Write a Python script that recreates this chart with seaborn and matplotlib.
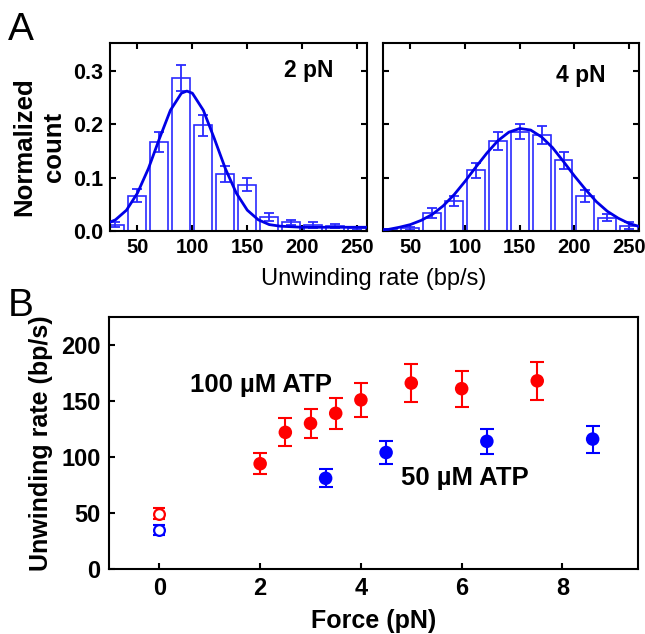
import numpy as np
import pandas as pd
import seaborn as sns
import matplotlib.pyplot as plt

# panel A: histograms of unwinding rate at 2 pN and 4 pN
bin_centers = [30, 50, 70, 90, 110, 130, 150, 170, 190, 210, 230, 250]
count_2pn = [0.012, 0.066, 0.166, 0.287, 0.198, 0.107, 0.087, 0.027, 0.016, 0.011, 0.010, 0.005]
err_2pn = [0.005, 0.012, 0.019, 0.024, 0.020, 0.015, 0.013, 0.0075, 0.005, 0.005, 0.004, 0.003]
count_4pn = [0.001, 0.005, 0.034, 0.057, 0.114, 0.169, 0.186, 0.179, 0.1325, 0.066, 0.025, 0.010]
err_4pn = [0.002, 0.003, 0.009, 0.0094, 0.014, 0.017, 0.0144, 0.017, 0.0156, 0.011, 0.007, 0.0066]

# fitted curves
fit_x_2pn = [20, 30, 40, 50, 60, 70, 80, 90, 95, 100, 110, 120, 130, 140, 150,
             160, 170, 180, 190, 200, 210, 220, 230, 240, 250, 260]
fit_2pn = [0.012, 0.021, 0.039, 0.071, 0.117, 0.173, 0.226, 0.258, 0.262, 0.258,
           0.226, 0.173, 0.117, 0.071, 0.039, 0.021, 0.012, 0.009, 0.008, 0.007,
           0.007, 0.007, 0.007, 0.007, 0.007, 0.007]
fit_x_4pn = [20, 30, 40, 50, 60, 70, 80, 90, 100, 110, 120, 130, 140, 150,
             160, 170, 180, 190, 200, 210, 220, 230, 240, 250, 260]
fit_4pn = [0.002, 0.003, 0.007, 0.012, 0.020, 0.031, 0.047, 0.068, 0.093, 0.120,
           0.146, 0.169, 0.185, 0.192, 0.189, 0.176, 0.156, 0.130, 0.103, 0.078,
           0.055, 0.037, 0.024, 0.014, 0.008]

# panel B: unwinding rate vs force
force_100 = [2, 2.5, 3, 3.5, 4, 5, 6, 7.5]
rate_100 = [94, 122, 130, 139, 151, 166, 161, 168]
err_100 = [9.5, 12.5, 13, 14, 15.5, 17, 16, 17]
force_50 = [3.3, 4.5, 6.5, 8.6]
rate_50 = [81, 104, 114, 116]
err_50 = [8, 10.5, 11, 12]
force_zero = [0, 0]
rate_zero = [49.5, 35]
err_zero = [5, 4.5]
atp_zero = ['100', '50']

bar_blue = '#2b2bff'
line_blue = '#0000e6'
colors = {'100': '#ff0000', '50': '#0000ff'}

sns.set_style('ticks')
plt.rcParams['font.family'] = ['Liberation Sans', 'DejaVu Sans']
plt.rcParams['font.weight'] = 'bold'
plt.rcParams['axes.labelweight'] = 'bold'
plt.rcParams['axes.linewidth'] = 1.5
for key in ['text.color', 'axes.labelcolor', 'xtick.color', 'ytick.color', 'axes.edgecolor']:
    plt.rcParams[key] = 'black'

fig = plt.figure(figsize=(6.45, 6.34), dpi=100)
ax1 = fig.add_axes([110 / 645, 1 - 231 / 634, 257 / 645, 188 / 634])
ax2 = fig.add_axes([383 / 645, 1 - 231 / 634, 256 / 645, 188 / 634])
ax3 = fig.add_axes([109 / 645, 1 - 569 / 634, 529 / 645, 252 / 634])


def draw_hist(ax, counts, errs, fx, fy, label, label_y):
    sns.barplot(x=bin_centers, y=counts, native_scale=True, width=0.82, fill=False,
                color=bar_blue, linewidth=1.2, errorbar=None, ax=ax)
    ax.errorbar(bin_centers, counts, yerr=errs, fmt='none', ecolor=bar_blue,
                elinewidth=1.3, capsize=3.6, capthick=1.3)
    sns.lineplot(x=fx, y=fy, color=line_blue, linewidth=2, ax=ax, zorder=5)
    ax.set_xlim(25, 259)
    ax.set_ylim(0, 0.352)
    ax.set_xticks([50, 100, 150, 200, 250])
    ax.set_xticklabels(['50', '100', '150', '200', '250'])
    ax.set_yticks([0, 0.1, 0.2, 0.3])
    ax.set_yticklabels(['0.0', '0.1', '0.2', '0.3'])
    ax.tick_params(direction='in', top=True, right=True, length=4, width=1.5, pad=5)
    ax.tick_params(axis='x', labelsize=14.5)
    ax.tick_params(axis='y', labelsize=15.5)
    ax.set_xlabel('')
    ax.set_ylabel('')
    ax.text(183, label_y, label, fontsize=16.5, va='center')
    for s in ax.spines.values():
        s.set_color('black')
        s.set_linewidth(1.5)


draw_hist(ax1, count_2pn, err_2pn, fit_x_2pn, fit_2pn, '2 pN', 0.300)
draw_hist(ax2, count_4pn, err_4pn, fit_x_4pn, fit_4pn, '4 pN', 0.292)
ax2.tick_params(labelleft=False)

fig.text(39 / 645, 1 - 147 / 634, 'Normalized\ncount', rotation=90, ha='center',
         va='center', fontsize=18.5, multialignment='center', linespacing=1.3)
fig.text(374 / 645, 1 - 279 / 634, 'Unwinding rate (bp/s)', ha='center', va='center',
         fontsize=17, fontweight='normal')
fig.text(8 / 645, 1 - 12 / 634, 'A', ha='left', va='top', fontsize=28, fontweight='normal')
fig.text(8 / 645, 1 - 288 / 634, 'B', ha='left', va='top', fontsize=28, fontweight='normal')

# panel B
df = pd.DataFrame({
    'force': force_100 + force_50,
    'rate': rate_100 + rate_50,
    'err': err_100 + err_50,
    'atp': ['100'] * len(force_100) + ['50'] * len(force_50),
})
df0 = pd.DataFrame({'force': force_zero, 'rate': rate_zero, 'err': err_zero, 'atp': atp_zero})

for atp, sub in df.groupby('atp'):
    ax3.errorbar(sub['force'], sub['rate'], yerr=sub['err'], fmt='none',
                 ecolor=colors[atp], elinewidth=1.5, capsize=4.7, capthick=1.5)
for atp, sub in df0.groupby('atp'):
    ax3.errorbar(sub['force'], sub['rate'], yerr=sub['err'], fmt='none',
                 ecolor=colors[atp], elinewidth=1.5, capsize=4.0, capthick=1.5)
sns.scatterplot(data=df, x='force', y='rate', hue='atp', palette=colors, s=95,
                edgecolor='none', legend=False, ax=ax3, zorder=5)
for atp, sub in df0.groupby('atp'):
    ax3.scatter(sub['force'], sub['rate'], s=60, facecolors='white',
                edgecolors=colors[atp], linewidths=1.6, zorder=5)

ax3.set_xlim(-1, 9.5)
ax3.set_ylim(0, 225)
ax3.set_xticks([0, 2, 4, 6, 8])
ax3.set_yticks([0, 50, 100, 150, 200])
ax3.tick_params(direction='in', length=4, width=1.5, labelsize=17, pad=6)
ax3.set_xlabel('Force (pN)', fontsize=18, fontweight='bold', labelpad=6)
ax3.set_ylabel('Unwinding rate (bp/s)', fontsize=18, fontweight='bold', labelpad=6)
for s in ax3.spines.values():
    s.set_color('black')
    s.set_linewidth(1.5)
ax3.text(0.6, 164, '100 \u00b5M ATP', fontsize=18.5, va='center')
ax3.text(4.8, 81.5, '50 \u00b5M ATP', fontsize=18.5, va='center')

fig.savefig('out.png', dpi=100)
